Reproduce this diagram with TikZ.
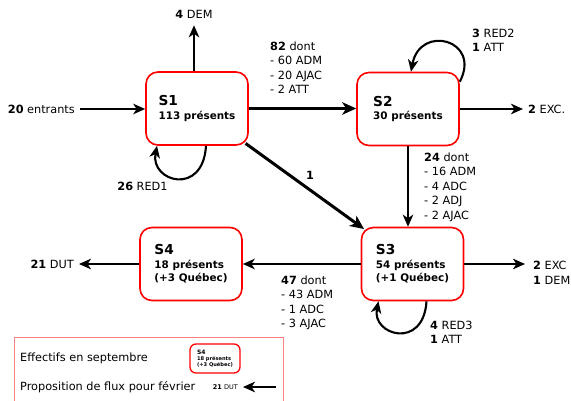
\documentclass[tikz,border=0pt]{standalone}
\usepackage{fontspec}
\setmainfont{DejaVu Sans}
\usetikzlibrary{arrows.meta,positioning}

\begin{document}
\begin{tikzpicture}[
    x=1pt, y=1pt,
    state/.style={rectangle, draw=red, line width=1.6pt, rounded corners=12pt, minimum width=102pt, minimum height=73pt, align=left, font=\fontsize{10.4}{13.5}\selectfont\bfseries},
    ministate/.style={rectangle, draw=red, line width=1.3pt, rounded corners=6pt, minimum width=50pt, minimum height=29pt, align=left, font=\fontsize{5.1}{6}\selectfont\bfseries},
    flow/.style={-{Stealth[length=12pt,width=10.5pt,inset=3.5pt]}, line width=2.1pt},
    bigflow/.style={-{Stealth[length=14pt,width=12.5pt,inset=4pt]}, line width=3pt},
    lbl/.style={font=\fontsize{11.3}{14.5}\selectfont, align=left, inner sep=0pt},
    endlbl/.style={font=\fontsize{11.3}{14.5}\selectfont, inner xsep=5pt, inner ysep=0pt},
    legendframe/.style={draw=red!50, line width=0.8pt}
]
\useasboundingbox (0,0) rectangle (571,-401);

% States
\node[state] (s1) at (197,-108.5) {{\fontsize{13.7}{14}\selectfont S1}\\113 présents};
\node[state] (s2) at (408,-109) {{\fontsize{13.7}{14}\selectfont S2}\\30 présents};
\node[state] (s3) at (412.5,-264) {{\fontsize{13.7}{14}\selectfont S3}\\54 présents\\(+1 Québec)};
\node[state] (s4) at (191,-264) {{\fontsize{13.7}{14}\selectfont S4}\\18 présents\\(+3 Québec)};

% Entries and exits
\node[endlbl, anchor=east] (entr) at (80,-109) {\textbf{20} entrants};
\node[endlbl, inner ysep=7pt] (dem) at (194,-14) {\textbf{4} DEM};
\node[endlbl, anchor=west] (exc2) at (523,-109) {\textbf{2} EXC.};
\node[endlbl, anchor=east] (dut) at (79,-264.5) {\textbf{21} DUT};
\node[lbl, anchor=north west, inner xsep=8pt] (exc3) at (525,-261) {\textbf{2} EXC\\\textbf{1} DEM};

\draw[flow] (entr.east) -- (entr.east -| s1.west);
\draw[flow] (s1.north -| dem) -- (dem);
\draw[flow] (s2) -- (exc2);
\draw[flow] (s4.west) -- (s4.west -| dut.east);
\draw[flow] (s3.east) -- (s3.east -| exc3.west);

% Flows between states
\draw[bigflow] (s1.east) -- (s1.east -| s2.west);
\draw[bigflow, shorten <=-4pt, shorten >=-4pt] (s1) -- (s3);
\draw[flow] (s2.south) -- (s2.south |- s3.north);
\draw[flow] (s3) -- (s4);

% Loops
\draw[flow] ([xshift=9pt]s1.south) .. controls +(-3,-51) and +(-7,-36) .. ([xshift=-40pt]s1.south);
\draw[flow] ([yshift=-10pt]s2.north east) .. controls +(22,42) and +(9,48) .. ([xshift=3pt]s2.north);
\draw[flow] ([xshift=14pt]s3.south) .. controls +(-3,-49) and +(-7,-34) .. ([xshift=-34pt]s3.south);

% Flow labels
\node[lbl, anchor=north west] (l12) at (270,-41.6) {\textbf{82} dont\\- 60 ADM\\- 20 AJAC\\- 2 ATT};
\node[lbl] (l13) at (310,-175) {\textbf{1}};
\node[lbl] (l11) at (142.5,-186) {\textbf{26} RED1};
\node[lbl, anchor=north west] (l22) at (472,-28.6) {\textbf{3} RED2\\\textbf{1} ATT};
\node[lbl, anchor=north west] (l23) at (424,-152.6) {\textbf{24} dont\\- 16 ADM\\- 4 ADC\\- 2 ADJ\\- 2 AJAC};
\node[lbl, anchor=north west] (l34) at (281,-275.6) {\textbf{47} dont\\- 43 ADM\\- 1 ADC\\- 3 AJAC};
\node[lbl, anchor=north west] (l33) at (430,-320.6) {\textbf{4} RED3\\\textbf{1} ATT};

% Legend
\draw[legendframe] (14,-401) |- (283,-337) -- (283,-401);
\node[lbl, anchor=west] (legstate) at (20,-358) {Effectifs en septembre};
\node[lbl, anchor=west] (legflow) at (20,-387) {Proposition de flux pour février};
\node[ministate] (legbox) at (215,-358.5) {{\fontsize{6}{6}\selectfont S4}\\18 présents\\(+3 Québec)};
\coordinate (legtail) at (276,-387);
\node[font=\fontsize{6.5}{7}\selectfont, inner xsep=5pt, inner ysep=0pt, left=33pt of legtail, anchor=east] (legdut) {\textbf{21} DUT};
\draw[flow] (legtail) -- (legdut);

\end{tikzpicture}
\end{document}
